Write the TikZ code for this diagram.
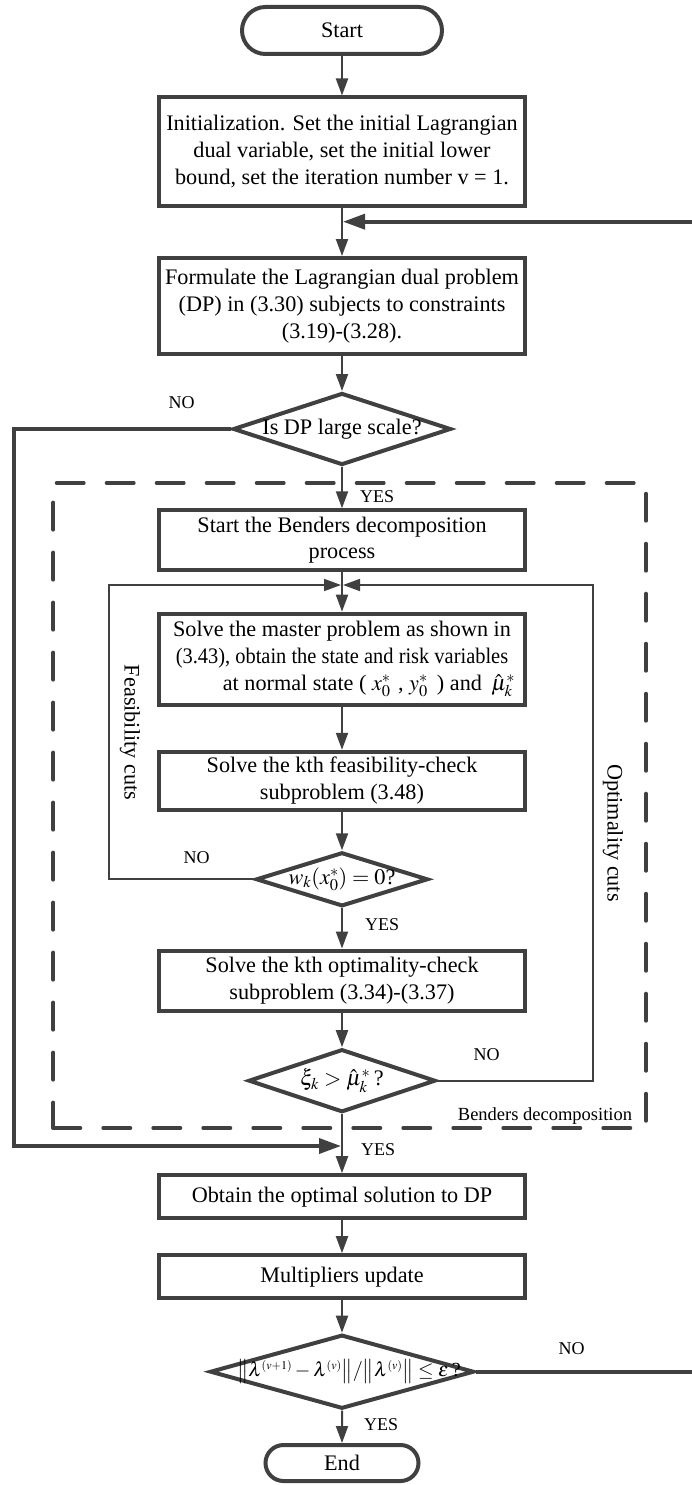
\documentclass[tikz,border=0pt]{standalone}
\usepackage{mathptmx}
\usepackage{fontspec}
\setmainfont{Liberation Serif}
\usetikzlibrary{arrows.meta,shapes.geometric,shapes.misc}
\definecolor{ln}{HTML}{404040}
\newcommand\mainfs{\fontsize{22.2pt}{26.7pt}\selectfont}
\newcommand\labfs{\fontsize{18pt}{21pt}\selectfont}
\newcommand\tinysup[1]{^{\scriptscriptstyle #1}}
\tikzset{
  proc/.style={draw=ln, line width=4pt, rectangle, minimum width=366pt, align=center, inner sep=0pt, font=\mainfs},
  term/.style={draw=ln, line width=4pt, rounded rectangle, inner sep=0pt, font=\mainfs},
  dec/.style={draw=ln, line width=4pt, diamond, inner sep=0pt, font=\mainfs},
  flow/.style={draw=ln, line width=2pt, -{Triangle[length=17pt,width=12pt]}},
  back/.style={draw=ln, line width=3.6pt, -{Triangle[length=22pt,width=15pt]}},
  cut/.style={draw=ln, line width=1.8pt, -{Triangle[length=17pt,width=12pt]}},
  frame/.style={draw=ln, line width=4pt, dash pattern=on 27pt off 23pt, line cap=round, inner sep=0pt},
  lab/.style={font=\labfs, inner sep=0pt},
}
\begin{document}
\begin{tikzpicture}[x=1pt,y=-1pt]
\useasboundingbox (0,0) rectangle (691,1485);

% dashed frame around the Benders decomposition loop
\node[frame, minimum width=592.7pt, minimum height=645pt] (bd) at (349.65,805.5) {};

% main flow
\node[term, minimum width=200pt, minimum height=47pt] (start) at (342,30.5) {Start};
\node[proc, minimum height=108pt] (init) at (342,151.5) {Initialization. Set the initial Lagrangian\\dual variable, set the initial lower\\bound, set the iteration number v = 1.};
\node[proc, minimum height=96pt] (form) at (342,306) {Formulate the Lagrangian dual problem\\(DP) in (3.30) subjects to constraints\\(3.19)-(3.28).};
\node[dec, minimum width=218pt, minimum height=72pt] (d1) at (342,429) {\makebox[0pt]{Is DP large scale?}};
\node[proc, minimum height=60pt] (bend) at (342,540.3) {Start the Benders decomposition\\process};
\node[proc, minimum height=91pt] (master) at (342,659.2) {Solve the master problem as shown in\\\scalebox{0.92}[1]{(3.43), obtain the state and risk variables}\\\hspace*{54pt}at normal state ( $x_0^*$\,\,, $y_0^*$\, ) and \,$\hat{\mu}_k^*$};
\node[proc, minimum height=58pt] (feas) at (342,780.8) {Solve the kth feasibility-check\\subproblem (3.48)};
\node[dec, minimum width=172pt, minimum height=54pt] (d2) at (342,879.3) {\makebox[0pt]{$w_k(x_0^*)=0$?}};
\node[proc, minimum height=60pt] (opt) at (342,980.5) {Solve the kth optimality-check\\subproblem (3.34)-(3.37)};
\node[dec, minimum width=187pt, minimum height=63pt] (d3) at (342,1080.7) {\makebox[0pt]{$\xi_k>\hat{\mu}_k^*$\,?}};
\node[proc, minimum height=43pt] (obt) at (342,1196.7) {Obtain the optimal solution to DP};
\node[proc, minimum height=43pt] (mult) at (342,1276.7) {Multipliers update};
\node[dec, minimum width=264pt, minimum height=74pt] (d4) at (342,1371.7) {\makebox[0pt]{\hspace*{14pt}\fontsize{20pt}{24pt}\selectfont$\big\|\lambda\tinysup{(v+1)}-\lambda\tinysup{(v)}\big\|/\big\|\lambda\tinysup{(v)}\big\|\le\varepsilon$\,?}};
\node[term, minimum width=153pt, minimum height=36pt] (end) at (342,1463) {End};

% junctions and rails of the return paths
\coordinate (j1) at (343,221.7);
\coordinate (j2l) at (341,585);
\coordinate (j2r) at (343,585);
\coordinate (j3) at (341,1146);
\coordinate (railL) at (14,0);
\coordinate (railR) at (700,0);
\coordinate (feasR) at (109,0);
\coordinate (optR) at (593.3,0);

% straight connectors
\draw[flow] (start) -- (init);
\draw[flow] (init) -- (form);
\draw[flow] (form) -- (d1);
\draw[flow] (d1) -- (bend);
\draw[flow] (bend) -- (master);
\draw[flow] (master) -- (feas);
\draw[flow] (feas) -- (d2);
\draw[flow] (d2) -- (opt);
\draw[flow] (opt) -- (d3);
\draw[flow] (d3) -- (obt);
\draw[flow] (obt) -- (mult);
\draw[flow] (mult) -- (d4);
\draw[flow] (d4) -- (end);

% return paths
\draw[back] (d4.east) -- (d4.east -| railR) -- (railR |- j1) -- (j1);
\draw[back] (d1.west) -- (d1.west -| railL) -- (railL |- j3) -- (j3);
\draw[cut] (d2.west) -- (d2.west -| feasR) -- (feasR |- j2l) -- (j2l);
\draw[cut] (d3.east) -- (d3.east -| optR) -- (optR |- j2r) -- (j2r);

% labels
\node[lab] (no1) at (181.7,403) {NO};
\node[lab, anchor=west] (yes1) at (360,497) {YES};
\node[lab] (no2) at (196.7,857.7) {NO};
\node[lab, anchor=west] (yes2) at (365,925) {YES};
\node[lab] (no3) at (486.7,1055) {NO};
\node[lab, anchor=west] (yes3) at (361,1150) {YES};
\node[lab] (no4) at (571.7,1348.3) {NO};
\node[lab, anchor=west] (yes4) at (364,1425) {YES};
\node[lab, font=\fontsize{18.5pt}{21pt}\selectfont] (bdlab) at (545,1115.7) {Benders decomposition};
\node[font=\mainfs, rotate=-90, inner sep=0pt] (fcut) at (130,732.5) {Feasibility cuts};
\node[font=\mainfs, rotate=-90, inner sep=0pt] (ocut) at (613,833) {Optimality cuts};
\end{tikzpicture}
\end{document}
